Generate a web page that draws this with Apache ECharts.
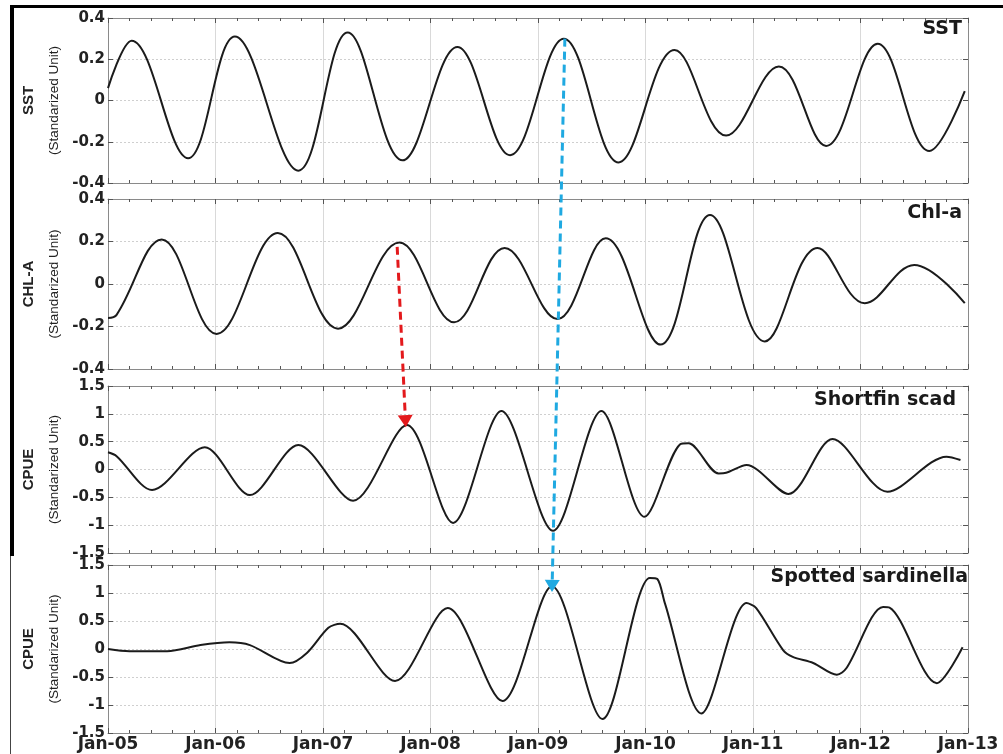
<!DOCTYPE html>
<html>
<head>
<meta charset="utf-8">
<title>SST, Chl-a and CPUE</title>
<script src="https://cdn.jsdelivr.net/npm/echarts@6/dist/echarts.min.js"></script>
<style>
  html, body { margin: 0; padding: 0; background: #fff; }
  #chart { width: 1003px; height: 754px; }
</style>
</head>
<body>
<div id="chart"></div>
<script>
// x values are years counted from Jan-05
const START_YEAR = 2005;

const sstT = [0, 0.22, 0.745, 1.18, 1.77, 2.23, 2.74, 3.25, 3.74, 4.24, 4.75, 5.27, 5.75, 6.24, 6.68, 7.16, 7.64, 7.97];
const sstV = [0.06, 0.29, -0.28, 0.31, -0.34, 0.33, -0.29, 0.26, -0.265, 0.30, -0.30, 0.245, -0.17, 0.165, -0.22, 0.275, -0.245, 0.045];

const chlT = [0, 0.08, 0.50, 1.01, 1.58, 2.14, 2.71, 3.22, 3.69, 4.18, 4.63, 5.14, 5.60, 6.11, 6.60, 7.04, 7.50, 7.97];
const chlV = [-0.16, -0.145, 0.21, -0.235, 0.24, -0.21, 0.195, -0.18, 0.17, -0.165, 0.215, -0.285, 0.325, -0.27, 0.17, -0.09, 0.09, -0.09];

const scadT = [0, 0.08, 0.41, 0.90, 1.32, 1.77, 2.28, 2.78, 3.21, 3.66, 4.14, 4.59, 4.99, 5.32, 5.40, 5.68, 5.75, 5.94, 6.33, 6.74, 7.25, 7.80, 7.93];
const scadV = [0.31, 0.24, -0.37, 0.40, -0.46, 0.44, -0.56, 0.80, -0.96, 1.05, -1.10, 1.05, -0.85, 0.45, 0.47, -0.07, -0.06, 0.08, -0.44, 0.55, -0.40, 0.23, 0.17];

const sardT = [0, 0.20, 0.55, 0.86, 1.13, 1.32, 1.69, 1.85, 2.05, 2.16, 2.67, 3.16, 3.67, 4.13, 4.60, 5.04, 5.11, 5.18, 5.52, 5.94, 6.03, 6.28, 6.37, 6.56, 6.78, 6.87, 7.21, 7.27, 7.71, 7.95];
const sardV = [0.0, -0.04, -0.04, 0.07, 0.12, 0.07, -0.25, -0.07, 0.38, 0.45, -0.57, 0.73, -0.93, 1.12, -1.25, 1.27, 1.25, 0.82, -1.15, 0.82, 0.73, -0.02, -0.14, -0.25, -0.46, -0.34, 0.75, 0.74, -0.61, 0.03];

const panelNames = ['SST', 'CHL-A', 'CPUE', 'CPUE'];
const panelTitles = ['SST', 'Chl-a', 'Shortfin scad', 'Spotted sardinella'];
const yMin = [-0.4, -0.4, -1.5, -1.5];
const yMax = [0.4, 0.4, 1.5, 1.5];
const yStep = [0.2, 0.2, 0.5, 0.5];
const xMin = 2005, xMax = 2013;

// arrows: [panel, year, value] for the tail and the head
const redArrow = { from: [1, 2007.69, 0.175], to: [2, 2007.77, 0.76] };
const blueArrow = { from: [0, 2009.25, 0.30], to: [3, 2009.13, 1.02] };

const seriesT = [sstT, chlT, scadT, sardT];
const seriesV = [sstV, chlV, scadV, sardV];

const grids = [
  { left: 108, right: 35, top: 18, height: 165 },
  { left: 108, right: 35, top: 199, height: 170 },
  { left: 108, right: 35, top: 386, height: 167 },
  { left: 108, right: 35, top: 565, height: 168 }
];
const titlePos = [
  { right: 41, top: 20 },
  { right: 41, top: 204 },
  { right: 47, top: 391 },
  { right: 35, top: 568 }
];

const axisColor = '#8a8a8a';
const labelFont = { fontFamily: 'DejaVu Sans', fontWeight: 'bold', color: '#222' };
const nameFont = "'Liberation Sans', Arial, sans-serif";

let xAxes = [], yAxes = [], series = [], titles = [];
for (let i = 0; i < 4; i++) {
  xAxes.push({
    type: 'value', gridIndex: i, position: 'bottom',
    min: xMin, max: xMax, interval: 1,
    axisLine: { onZero: false, lineStyle: { color: axisColor } },
    axisTick: { inside: true, length: 5, lineStyle: { color: '#555' } },
    minorTick: { show: true, splitNumber: 5, length: 3, lineStyle: { color: '#555' } },
    splitLine: { show: true, lineStyle: { color: '#d9d9d9', width: 1 } },
    axisLabel: {
      show: i === 3, margin: 3, fontSize: 17, ...labelFont,
      formatter: v => 'Jan-' + String(v).slice(2)
    }
  });
  xAxes.push({
    type: 'value', gridIndex: i, position: 'top',
    min: xMin, max: xMax, interval: 1,
    axisLine: { onZero: false, lineStyle: { color: axisColor } },
    axisTick: { inside: true, length: 5, lineStyle: { color: '#555' } },
    minorTick: { show: true, splitNumber: 5, length: 3, lineStyle: { color: '#555' } },
    splitLine: { show: false },
    axisLabel: { show: false }
  });
  yAxes.push({
    type: 'value', gridIndex: i, position: 'left',
    min: yMin[i], max: yMax[i], interval: yStep[i],
    name: '{a|' + panelNames[i] + '}\n{b|(Standarized Unit)}',
    nameLocation: 'middle', nameRotate: 90, nameGap: 44,
    nameTextStyle: {
      rich: {
        a: { fontFamily: nameFont, fontWeight: 'bold', fontSize: 15, color: '#222', lineHeight: 32 },
        b: { fontFamily: nameFont, fontSize: 13.5, color: '#222', lineHeight: 18 }
      }
    },
    axisLine: { show: true, onZero: false, lineStyle: { color: axisColor } },
    axisTick: { show: true, inside: true, length: 5, lineStyle: { color: '#555' } },
    splitLine: { show: true, lineStyle: { color: '#cfcfcf', type: [2, 2] } },
    axisLabel: { margin: 3, fontSize: 15, ...labelFont }
  });
  yAxes.push({
    type: 'value', gridIndex: i, position: 'right',
    min: yMin[i], max: yMax[i], interval: yStep[i],
    axisLine: { show: true, onZero: false, lineStyle: { color: axisColor } },
    axisTick: { show: true, inside: true, length: 5, lineStyle: { color: '#555' } },
    splitLine: { show: false },
    axisLabel: { show: false }
  });
  series.push({
    type: 'line',
    xAxisIndex: i * 2, yAxisIndex: i * 2,
    data: seriesT[i].map((t, k) => [START_YEAR + t, seriesV[i][k]]),
    showSymbol: false,
    smooth: i < 2 ? 0.38 : 0.3,
    lineStyle: { color: '#1b1b1b', width: 2 },
    z: 3
  });
  titles.push({
    text: panelTitles[i],
    right: titlePos[i].right, top: titlePos[i].top, padding: 0,
    textStyle: { fontFamily: 'DejaVu Sans', fontWeight: 'bold', fontSize: 19, color: '#1a1a1a' }
  });
}

let chart = echarts.init(document.getElementById('chart'));
chart.setOption({
  backgroundColor: '#fff',
  animation: false,
  title: titles,
  grid: grids,
  xAxis: xAxes,
  yAxis: yAxes,
  series: series
});

function toPx(p) {
  return chart.convertToPixel({ xAxisIndex: p[0] * 2, yAxisIndex: p[0] * 2 }, [p[1], p[2]]);
}

// dashed shaft plus a filled triangle whose tip sits on the target
function arrowShapes(arrow, color) {
  const a = toPx(arrow.from), b = toPx(arrow.to);
  const headH = 12, headW = 15;
  const dx = b[0] - a[0], dy = b[1] - a[1];
  const len = Math.sqrt(dx * dx + dy * dy);
  const ux = dx / len, uy = dy / len;
  const base = [b[0] - ux * headH, b[1] - uy * headH];
  return [
    {
      type: 'polyline', z: 10,
      shape: { points: [a, base] },
      style: { stroke: color, lineWidth: 3, lineDash: [8, 5], fill: null }
    },
    {
      type: 'polygon', z: 10,
      shape: { points: [b, [base[0] + uy * headW / 2, base[1] - ux * headW / 2], [base[0] - uy * headW / 2, base[1] + ux * headW / 2]] },
      style: { fill: color }
    }
  ];
}

// frame of the original figure
const frame = [
  { type: 'line', shape: { x1: 10, y1: 6.5, x2: 1003, y2: 6.5 }, style: { stroke: '#000', lineWidth: 3 } },
  { type: 'line', shape: { x1: 12, y1: 5, x2: 12, y2: 556 }, style: { stroke: '#000', lineWidth: 4 } },
  { type: 'line', shape: { x1: 10.5, y1: 556, x2: 10.5, y2: 754 }, style: { stroke: '#444', lineWidth: 1 } }
];

chart.setOption({
  graphic: frame
    .concat(arrowShapes(redArrow, '#e3191c'))
    .concat(arrowShapes(blueArrow, '#1fa9e1'))
});
</script>
</body>
</html>
